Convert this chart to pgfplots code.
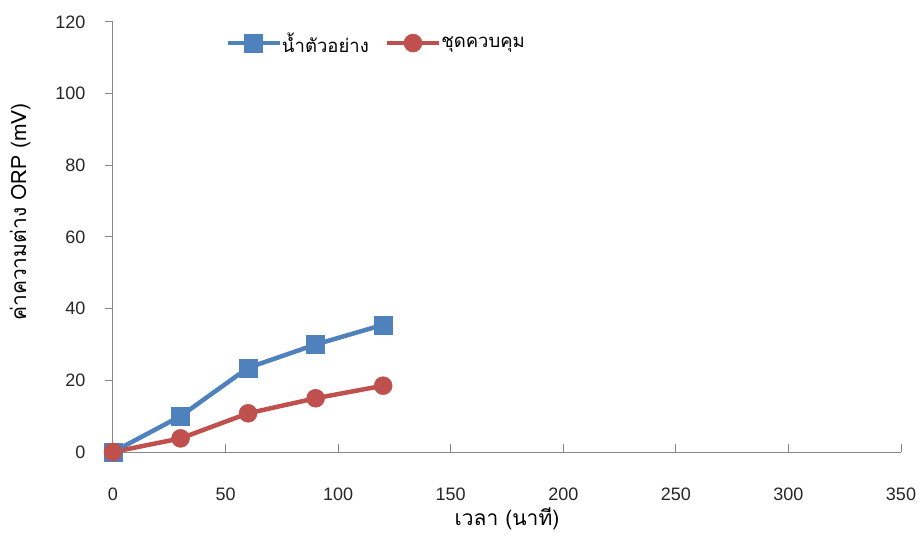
\documentclass[border=0pt]{standalone}
\usepackage{pgfplots}
\pgfplotsset{compat=1.18}
\usepackage{fontspec}
\setmainfont{Liberation Sans}
\newfontfamily\thai[Script=Thai]{Loma}
\definecolor{sblue}{HTML}{4F81BD}
\definecolor{sred}{HTML}{C0504D}
\definecolor{axgray}{HTML}{868686}
\begin{document}
\begin{tikzpicture}
\path[use as bounding box] (-113bp,-84bp) rectangle (808bp,452bp);
\begin{axis}[
  at={(0,0)}, anchor=south west,
  scale only axis, width=788bp, height=430bp,
  xmin=0, xmax=350, ymin=0, ymax=120,
  xtick={0,50,...,350}, ytick={0,20,...,120},
  axis lines*=left,
  axis line style={axgray, line width=1bp},
  tick style={axgray, line width=1bp},
  tick align=inside,
  major tick length=8bp,
  ytick style={xshift=-8bp},
  /pgf/number format/assume math mode=true,
  tick label style={font=\fontsize{18bp}{20bp}\selectfont, text=black!85},
  xticklabel style={yshift=-32bp},
  yticklabel style={xshift=-24bp},
  xlabel={\thai เวลา (นาที)},
  ylabel={\thai ค่าความต่าง ORP (mV)},
  label style={font=\fontsize{21bp}{24bp}\selectfont},
  xlabel style={yshift=-1bp},
  ylabel style={at={(ticklabel cs:0.558)}, yshift=18bp},
  legend style={draw=none, fill=none, at={(0.334,0.951)}, anchor=center,
    legend columns=2, font=\thai\fontsize{18.5bp}{20bp}\selectfont,
    /tikz/every even column/.append style={column sep=14bp},
    /tikz/every odd column/.append style={column sep=-2bp}},
  legend image code/.code={\draw[mark repeat=2,mark phase=2] plot coordinates {(0bp,0bp)(26bp,0bp)(52bp,0bp)};},
  clip=false,
]
\addplot[sblue, line width=4.5bp, mark=square*, mark size=9bp, mark options={solid, line width=0.5bp}]
  coordinates {(0,0) (30,10) (60,23.5) (90,30) (120,35.5)};
\addlegendentry{น้ำตัวอย่าง}
\addplot[sred, line width=4.5bp, mark=*, mark size=9bp, mark options={solid, line width=0.5bp}]
  coordinates {(0,0) (30,3.8) (60,10.8) (90,15) (120,18.5)};
\addlegendentry{ชุดควบคุม}
\end{axis}
\end{tikzpicture}
\end{document}
